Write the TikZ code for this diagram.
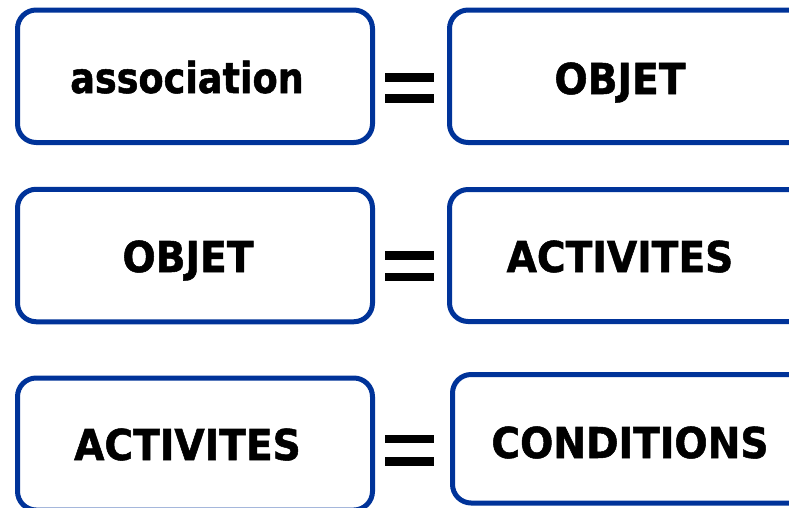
\documentclass[tikz,border=0pt]{standalone}
\usepackage{fontspec}
\setmainfont{DejaVu Sans}[FakeStretch=0.92,FakeBold=1.2]
\newfontfamily\lowf{DejaVu Sans}[FakeStretch=0.86,FakeBold=1.2]
\definecolor{boxblue}{RGB}{0,51,153}
\tikzset{
  box/.style={draw=boxblue, line width=3.75pt, rounded corners=14pt, fill=white, inner sep=0pt},
  lbox/.style={box, minimum width=355*0.75pt, minimum height=132.5*0.75pt},
  txt/.style={font=\fontsize{31.9}{36}\selectfont\bfseries, text=black, inner sep=0pt, anchor=base},
  eqbar/.style={fill=black, draw=none}
}
\begin{document}
\begin{tikzpicture}[x=0.75pt, y=-0.75pt]
\clip (0,0) rectangle (789,507);
\fill[white] (0,0) rectangle (789,507);
% row 1
\node[lbox] (a1) at (195,76.25) {};
\node[box, minimum width=370*0.75pt, minimum height=132.5*0.75pt] (b1) at (634.5,76.25) {};
\node[txt] (ta1) at (187,93) {\lowf association};
\node[txt] (tb1) at (620,94) {OBJET};
\fill[eqbar] (385,73) rectangle (434,82);
\fill[eqbar] (385,94) rectangle (434,103);
% row 2
\node[lbox] (a2) at (195,255.5) {};
\node[box, minimum width=370*0.75pt, minimum height=132*0.75pt] (b2) at (634.5,255.5) {};
\node[txt] (ta2) at (188,272) {OBJET};
\node[txt] (tb2) at (620,272) {ACTIVITES};
\fill[eqbar] (385,251) rectangle (434,260);
\fill[eqbar] (385,273) rectangle (434,281);
% row 3
\node[box, minimum width=355*0.75pt, minimum height=132*0.75pt] (a3) at (195,444) {};
\node[box, minimum width=367*0.75pt, minimum height=128.5*0.75pt] (b3) at (636,438.75) {};
\node[txt] (ta3) at (187.5,460) {ACTIVITES};
\node[txt] (tb3) at (630,458) {CONDITIONS};
\fill[eqbar] (385,435) rectangle (434,443);
\fill[eqbar] (385,457) rectangle (434,466);
\end{tikzpicture}
\end{document}
